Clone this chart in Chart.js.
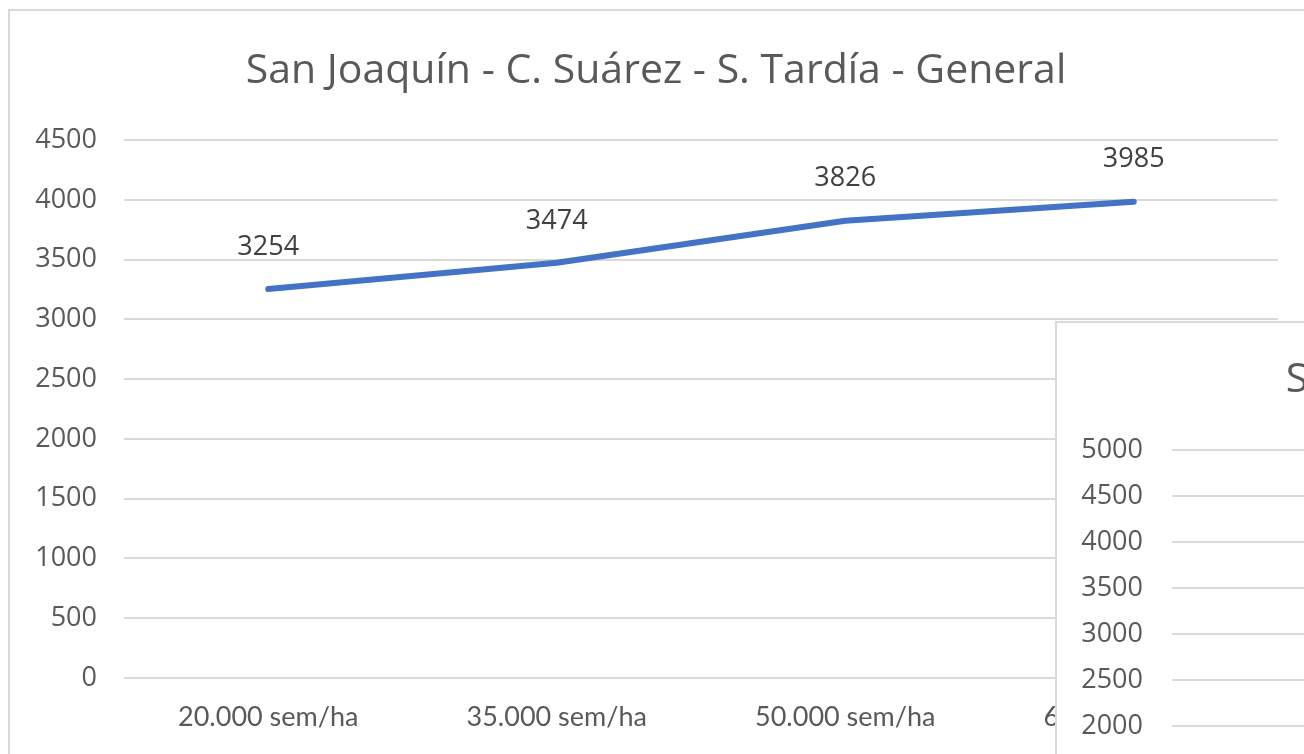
<!DOCTYPE html>
<html>
<head>
<meta charset="utf-8">
<script src="https://cdn.jsdelivr.net/npm/chart.js@4.4.1/dist/chart.umd.min.js"></script>
<style>
  html, body { margin: 0; padding: 0; background: #fff; overflow: hidden; }
  body { width: 1304px; height: 754px; position: relative; }
  .panel { position: absolute; border: 2px solid #d9d9d9; background: #fff; }
  #main-panel { left: 8px; top: 9px; width: 1310px; height: 760px; }
  #side-panel { left: 1055px; top: 321px; }
  canvas { display: block; }
</style>
</head>
<body>
<div class="panel" id="main-panel"><canvas id="main-chart" width="1310" height="760"></canvas></div>
<div class="panel" id="side-panel"><canvas id="side-chart" height="660"></canvas></div>

<script>
// Chart data
const categories = ['20.000 sem/ha', '35.000 sem/ha', '50.000 sem/ha', '65.000 sem/ha'];
const yieldValues = [3254, 3474, 3826, 3985];
const mainTitle = 'San Joaquín - C. Suárez - S. Tardía - General';
const mainTicks = [0, 500, 1000, 1500, 2000, 2500, 3000, 3500, 4000, 4500];

// Second chart lying on top, only its axis shows
const sideTitle = 'San Joaquín - C. Suárez - S. Temprana - General';
const sideTicks = [0, 500, 1000, 1500, 2000, 2500, 3000, 3500, 4000, 4500, 5000];

const textColor = '#595959';
const gridColor = '#d9d9d9';
const uiFont = "'Open Sans', 'Noto Sans', sans-serif";
const labelFont = "'Lato', 'Open Sans', sans-serif";
const titleFont = { family: uiFont, size: 41, weight: 'normal', lineHeight: 1.2 };

// Draw value labels above each point
const valueLabels = {
  id: 'valueLabels',
  afterDatasetsDraw(chart) {
    const ctx = chart.ctx;
    ctx.save();
    ctx.font = '27px ' + uiFont;
    ctx.fillStyle = '#404040';
    ctx.textAlign = 'center';
    ctx.textBaseline = 'middle';
    chart.getDatasetMeta(0).data.forEach((pt, i) => {
      ctx.fillText(String(chart.data.datasets[0].data[i]), pt.x, pt.y - 42);
    });
    ctx.restore();
  }
};

new Chart(document.getElementById('main-chart'), {
  type: 'line',
  data: {
    labels: categories,
    datasets: [{
      data: yieldValues,
      borderColor: '#4472c4',
      borderWidth: 6,
      borderCapStyle: 'round',
      borderJoinStyle: 'round',
      pointRadius: 0,
      tension: 0
    }]
  },
  options: {
    responsive: false,
    animation: false,
    layout: { padding: { left: 24, right: 42, top: 0, bottom: 0 } },
    plugins: {
      legend: { display: false },
      tooltip: { enabled: false },
      title: {
        display: true,
        text: mainTitle,
        color: textColor,
        font: titleFont,
        padding: { top: 36, bottom: 44 }
      }
    },
    scales: {
      x: {
        offset: true,
        grid: { display: false, drawTicks: false },
        border: { display: false },
        ticks: {
          color: textColor,
          font: { family: labelFont, size: 27 },
          padding: 23,
          maxRotation: 0
        },
        afterFit(scale) { scale.height = 93; }
      },
      y: {
        min: 0,
        max: 4500,
        afterBuildTicks(scale) { scale.ticks = mainTicks.map(v => ({ value: v })); },
        grid: { color: gridColor, lineWidth: 2, drawTicks: false },
        border: { display: false },
        ticks: {
          color: textColor,
          font: { family: uiFont, size: 27 },
          padding: 27,
          callback: v => String(v)
        },
        afterFit(scale) { scale.width = 90; }
      }
    }
  },
  plugins: [valueLabels]
});

// Size the side canvas so its centred title starts where the reference shows its first letter
const sideCanvas = document.getElementById('side-chart');
const mctx = sideCanvas.getContext('2d');
mctx.font = '41px ' + uiFont;
const sideTitleWidth = mctx.measureText(sideTitle).width;
sideCanvas.width = Math.round(2 * 229 + sideTitleWidth);

new Chart(sideCanvas, {
  type: 'line',
  data: { labels: categories, datasets: [] },
  options: {
    responsive: false,
    animation: false,
    layout: { padding: 0 },
    plugins: {
      legend: { display: false },
      tooltip: { enabled: false },
      title: {
        display: true,
        text: sideTitle,
        color: textColor,
        font: titleFont,
        padding: { top: 33, bottom: 45 }
      }
    },
    scales: {
      x: {
        offset: true,
        grid: { display: false, drawTicks: false },
        border: { display: false },
        ticks: { display: false },
        afterFit(scale) { scale.height = 73; }
      },
      y: {
        min: 0,
        max: 5000,
        afterBuildTicks(scale) { scale.ticks = sideTicks.map(v => ({ value: v })); },
        grid: { color: gridColor, lineWidth: 2, drawTicks: false },
        border: { display: false },
        ticks: {
          color: textColor,
          font: { family: uiFont, size: 27 },
          padding: 29,
          callback: v => String(v)
        },
        afterFit(scale) { scale.width = 115; }
      }
    }
  }
});
</script>
</body>
</html>
